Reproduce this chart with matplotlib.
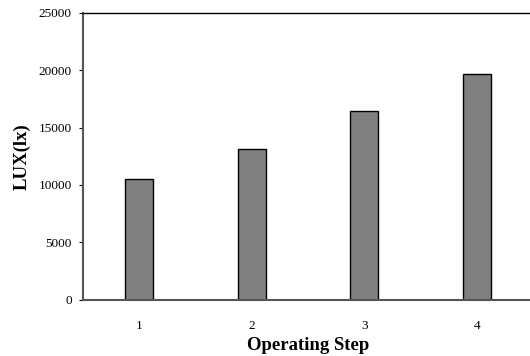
import matplotlib
matplotlib.use('Agg')
import matplotlib.pyplot as plt

# operating steps and measured illuminance
steps = [1, 2, 3, 4]
lux = [10550, 13170, 16490, 19700]
y_ticks = [0, 5000, 10000, 15000, 20000, 25000]

plt.rcParams['font.family'] = ['Liberation Serif', 'DejaVu Serif']

fig = plt.figure(figsize=(5.30, 3.56), dpi=100)
# axes run slightly past the right edge of the figure, as in the source
ax = fig.add_axes([83 / 530, 1 - 299.5 / 356, 450 / 530, 286.5 / 356])

ax.bar(steps, lux, width=0.25, color='#808080', edgecolor='black', linewidth=1.0)

ax.set_xlim(0.5, 4.5)
ax.set_ylim(0, 25000)
ax.set_xticks(steps)
ax.set_yticks(y_ticks)
ax.tick_params(axis='x', length=0, pad=15, labelsize=9.5)
ax.tick_params(axis='y', length=3, width=0.8, direction='out', pad=5, labelsize=9.5)

for side in ['left', 'bottom']:
    ax.spines[side].set_color('#555555')
    ax.spines[side].set_linewidth(1.5)
ax.spines['top'].set_color('black')
ax.spines['top'].set_linewidth(1.0)
ax.spines['right'].set_visible(False)

ax.set_xlabel('Operating Step', fontsize=13.5, fontweight='bold', labelpad=3)
ax.set_ylabel('LUX(lx)', fontsize=13.5, fontweight='bold', labelpad=6)

fig.savefig('out.png', dpi=100)
